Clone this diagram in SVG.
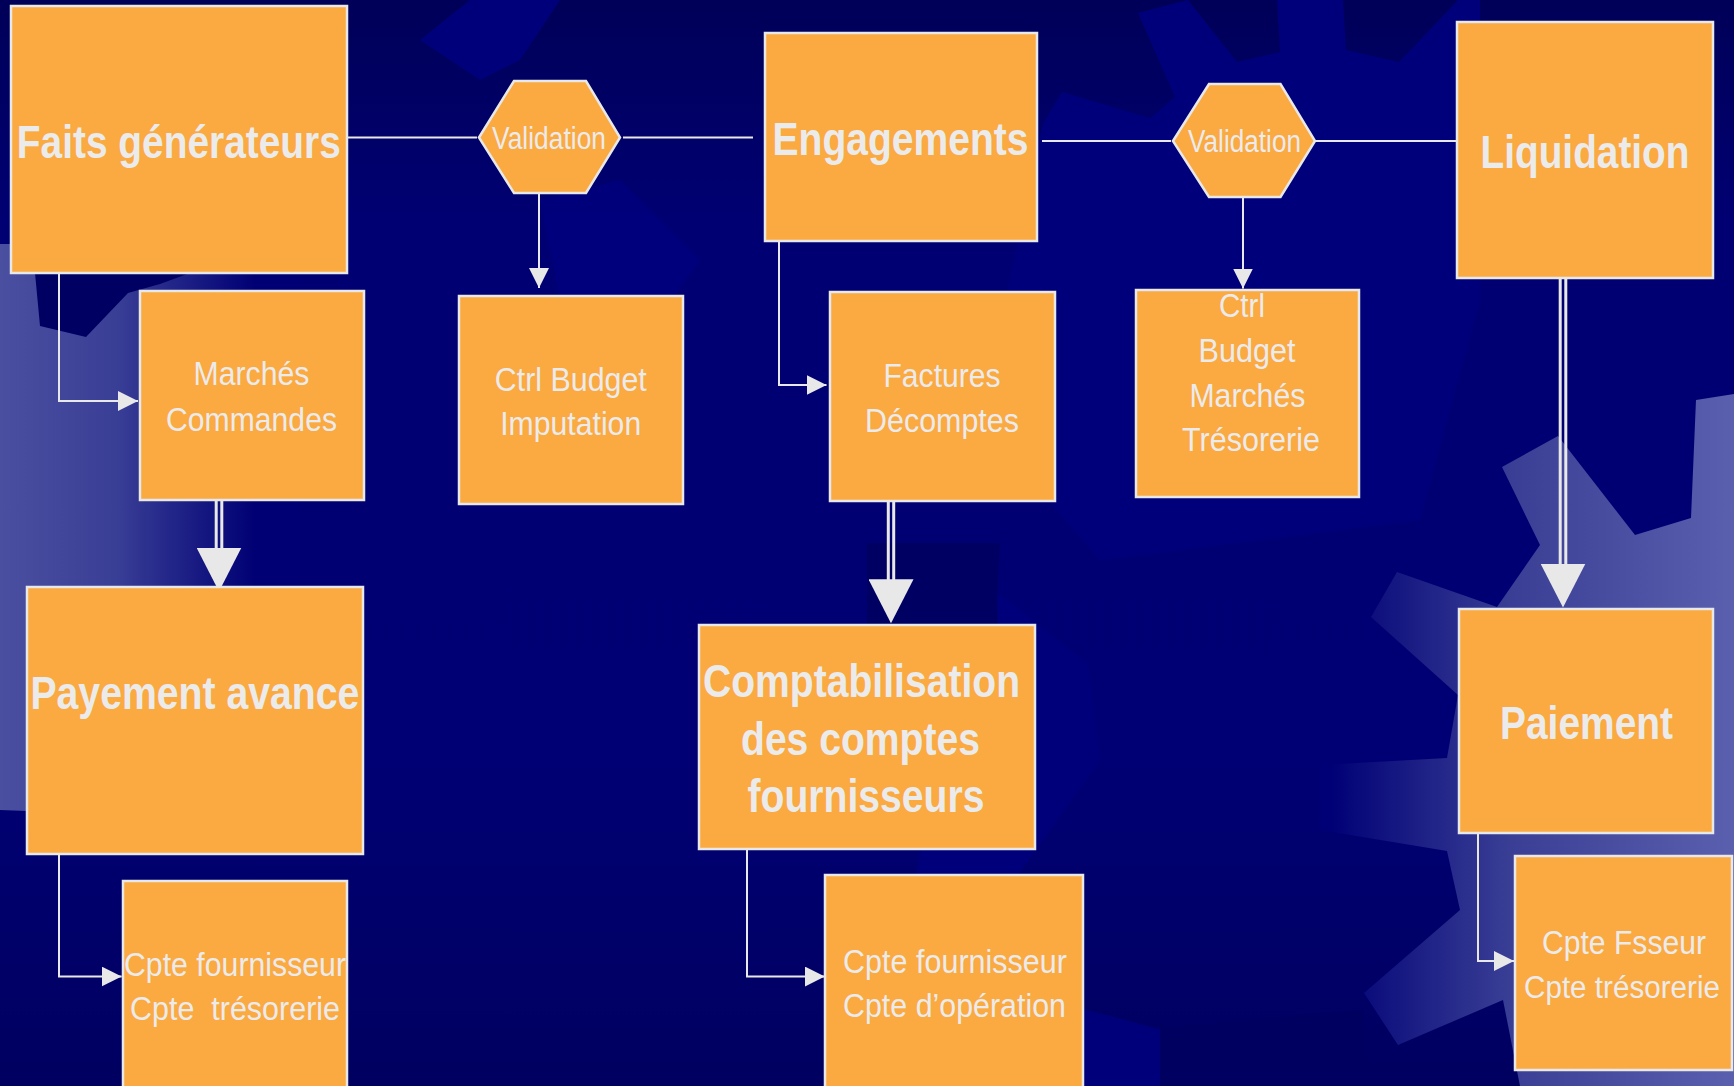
<svg xmlns="http://www.w3.org/2000/svg" width="1734" height="1086" viewBox="0 0 1734 1086">
<defs>
<linearGradient id="bgV" x1="0" y1="0" x2="0" y2="1">
<stop offset="0" stop-color="#000058"/>
<stop offset="0.2" stop-color="#000072"/>
<stop offset="0.7" stop-color="#000074"/>
<stop offset="1" stop-color="#000060"/>
</linearGradient>
<linearGradient id="leftLight" gradientUnits="userSpaceOnUse" x1="0" y1="0" x2="255" y2="0">
<stop offset="0" stop-color="#4a4fa0"/>
<stop offset="0.45" stop-color="#3a3f96"/>
<stop offset="1" stop-color="#000074"/>
</linearGradient>
<linearGradient id="rightLight" gradientUnits="userSpaceOnUse" x1="1330" y1="0" x2="1734" y2="0">
<stop offset="0" stop-color="#000076"/>
<stop offset="0.45" stop-color="#3a3f95"/>
<stop offset="1" stop-color="#5a5fae"/>
</linearGradient>
<marker id="arr" viewBox="0 0 20 20" refX="20" refY="10" markerWidth="20" markerHeight="20" markerUnits="userSpaceOnUse" orient="auto">
<path d="M0,0 L20,10 L0,20 z" fill="#e8e8e8"/>
</marker>
<marker id="bigArr" viewBox="0 0 44 45" refX="44" refY="22.5" markerWidth="44" markerHeight="45" markerUnits="userSpaceOnUse" orient="auto">
<path d="M0,0 L44,22.5 L0,45 z" fill="#e8e8e8"/>
</marker>
</defs>
<style>
.box{fill:#fba941;stroke:#e8e8e8;stroke-width:2.5}
.t{font-family:'Liberation Sans',Arial,sans-serif;fill:#ebebeb;text-anchor:middle}
.b{font-weight:bold;font-size:47px}
.n{font-size:34px}
.v{font-size:31px}
.ln{stroke:#e8e8e8;stroke-width:2;fill:none}
.dl{stroke:#e8e8e8;stroke-width:3;fill:none}
</style>

<g id="background">
<rect x="0" y="0" width="1734" height="1086" fill="url(#bgV)"/>
<polygon points="1043,123 1062,92 1150,118 1175,97 1138,13 1188,0 1237,62 1280,52 1277,0 1343,0 1346,50 1399,62 1458,0 1480,0 1480,300 1420,520 1100,560 980,420" fill="#00007a"/>
<polygon points="420,40 470,0 560,0 520,60 480,80" fill="#00007a"/>
<polygon points="540,200 620,180 700,260 650,330 560,300" fill="#000080" opacity="0.7"/>
<polygon points="1000,595 1088,664 1100,760 1000,900 1050,1000 1200,1040 1300,1086 1000,1086 900,950 940,760" fill="#00007a"/>
<polygon points="1160,1028 1364,1010 1364,1086 1160,1086" fill="#000060"/>
<polygon points="867,543 1000,543 997,595 1000,716 867,716" fill="#00005e" opacity="0.8"/>
<polygon points="0,244 300,244 300,810 27,811 0,810" fill="url(#leftLight)"/>
<polygon points="35,273 190,273 160,284 128,293 86,337 40,326" fill="#000062"/>
<polygon points="1734,394 1696,400 1691,518 1635,535 1558,436 1502,467 1540,545 1497,607 1397,572 1371,617 1458,695 1447,758 1320,765 1320,830 1447,851 1460,910 1364,993 1398,1045 1503,1000 1520,1086 1734,1086" fill="url(#rightLight)"/>
</g>

<g id="connectors">
<path class="ln" d="M347,137.5 H477"/>
<path class="ln" d="M623,137.5 H753"/>
<path class="ln" d="M1042,141 H1171"/>
<path class="ln" d="M1315,141 H1457"/>
<path class="ln" d="M59,273 V401 H138" marker-end="url(#arr)"/>
<path class="ln" d="M539,193 V288" marker-end="url(#arr)"/>
<path class="ln" d="M779,241 V385 H826.5" marker-end="url(#arr)"/>
<path class="ln" d="M1243,197 V288.5" marker-end="url(#arr)"/>
<path class="ln" d="M59,848 V976.5 H121.6" marker-end="url(#arr)"/>
<path class="ln" d="M747,849 V976.5 H824.8" marker-end="url(#arr)"/>
<path class="ln" d="M1478,833 V961 H1514" marker-end="url(#arr)"/>
<path class="dl" d="M216.2,499 V550 M221.8,499 V550"/>
<path d="M219,499 V591.5" fill="none" stroke="none" marker-end="url(#bigArr)"/>
<path class="dl" d="M888.3,500 V582 M893.7,500 V582"/>
<path d="M891,500 V623.3" fill="none" stroke="none" marker-end="url(#bigArr)"/>
<path class="dl" d="M1560.2,277 V566 M1565.8,277 V566"/>
<path d="M1563,277 V607.5" fill="none" stroke="none" marker-end="url(#bigArr)"/>
</g>

<g id="faits">
<rect class="box" x="11" y="6" width="336" height="267"/>
<text class="t b" x="178.8" y="157.5" textLength="324" lengthAdjust="spacingAndGlyphs">Faits générateurs</text>
</g>
<g id="validation1">
<polygon class="box" points="479,137.5 514,81 586,81 620,137.5 586,193 514,193"/>
<text class="t v" x="549" y="149" textLength="114" lengthAdjust="spacingAndGlyphs">Validation</text>
</g>
<g id="engagements">
<rect class="box" x="765" y="33" width="272" height="208"/>
<text class="t b" x="900.5" y="154.5" textLength="256" lengthAdjust="spacingAndGlyphs">Engagements</text>
</g>
<g id="validation2">
<polygon class="box" points="1173,141 1209,84 1280.5,84 1315,141 1280.5,197 1209,197"/>
<text class="t v" x="1244.5" y="152.4" textLength="113" lengthAdjust="spacingAndGlyphs">Validation</text>
</g>
<g id="liquidation">
<rect class="box" x="1457" y="22" width="256" height="256"/>
<text class="t b" x="1585" y="168" textLength="209" lengthAdjust="spacingAndGlyphs">Liquidation</text>
</g>
<g id="marches">
<rect class="box" x="140" y="291" width="224" height="209"/>
<text class="t n" x="251.5" y="385.4" textLength="116" lengthAdjust="spacingAndGlyphs">Marchés</text>
<text class="t n" x="251.5" y="431" textLength="171" lengthAdjust="spacingAndGlyphs">Commandes</text>
</g>
<g id="ctrl-budget">
<rect class="box" x="459" y="296" width="224" height="208"/>
<text class="t n" x="570.8" y="391.3" textLength="152" lengthAdjust="spacingAndGlyphs">Ctrl Budget</text>
<text class="t n" x="570.7" y="434.6" textLength="141" lengthAdjust="spacingAndGlyphs">Imputation</text>
</g>
<g id="factures">
<rect class="box" x="830" y="292" width="225" height="209"/>
<text class="t n" x="942" y="386.8" textLength="117" lengthAdjust="spacingAndGlyphs">Factures</text>
<text class="t n" x="942" y="432.3" textLength="154" lengthAdjust="spacingAndGlyphs">Décomptes</text>
</g>
<g id="ctrl-tresorerie">
<rect class="box" x="1136" y="290" width="223" height="207"/>
<text class="t n" x="1242" y="316.8" textLength="46" lengthAdjust="spacingAndGlyphs">Ctrl</text>
<text class="t n" x="1247" y="361.8" textLength="97" lengthAdjust="spacingAndGlyphs">Budget</text>
<text class="t n" x="1247.4" y="406.9" textLength="116" lengthAdjust="spacingAndGlyphs">Marchés</text>
<text class="t n" x="1251" y="450.8" textLength="138" lengthAdjust="spacingAndGlyphs">Trésorerie</text>
</g>
<g id="payement-avance">
<rect class="box" x="27" y="587" width="336" height="267"/>
<text class="t b" x="194.9" y="709.2" textLength="329" lengthAdjust="spacingAndGlyphs">Payement avance</text>
</g>
<g id="cpte1">
<rect class="box" x="123" y="881" width="224" height="215"/>
<text class="t n" x="235" y="975.8" textLength="222" lengthAdjust="spacingAndGlyphs">Cpte fournisseur</text>
<text class="t n" x="235" y="1020" textLength="210" lengthAdjust="spacingAndGlyphs" style="white-space:pre">Cpte  trésorerie</text>
</g>
<g id="comptabilisation">
<rect class="box" x="699" y="625" width="336" height="224"/>
<text class="t b" x="861.5" y="697" textLength="317" lengthAdjust="spacingAndGlyphs">Comptabilisation</text>
<text class="t b" x="860.5" y="755" textLength="239" lengthAdjust="spacingAndGlyphs">des comptes</text>
<text class="t b" x="866" y="812.3" textLength="237" lengthAdjust="spacingAndGlyphs">fournisseurs</text>
</g>
<g id="cpte2">
<rect class="box" x="825" y="875" width="258" height="220"/>
<text class="t n" x="955" y="973.3" textLength="224" lengthAdjust="spacingAndGlyphs">Cpte fournisseur</text>
<text class="t n" x="954.5" y="1017.3" textLength="223" lengthAdjust="spacingAndGlyphs">Cpte d’opération</text>
</g>
<g id="paiement">
<rect class="box" x="1459" y="609" width="254" height="224"/>
<text class="t b" x="1586.5" y="738.6" textLength="173" lengthAdjust="spacingAndGlyphs">Paiement</text>
</g>
<g id="cpte3">
<rect class="box" x="1515" y="856" width="217" height="214"/>
<text class="t n" x="1624" y="954" textLength="164" lengthAdjust="spacingAndGlyphs">Cpte Fsseur</text>
<text class="t" x="1622" y="998.3" font-size="31" textLength="196" lengthAdjust="spacingAndGlyphs">Cpte trésorerie</text>
</g>
</svg>
